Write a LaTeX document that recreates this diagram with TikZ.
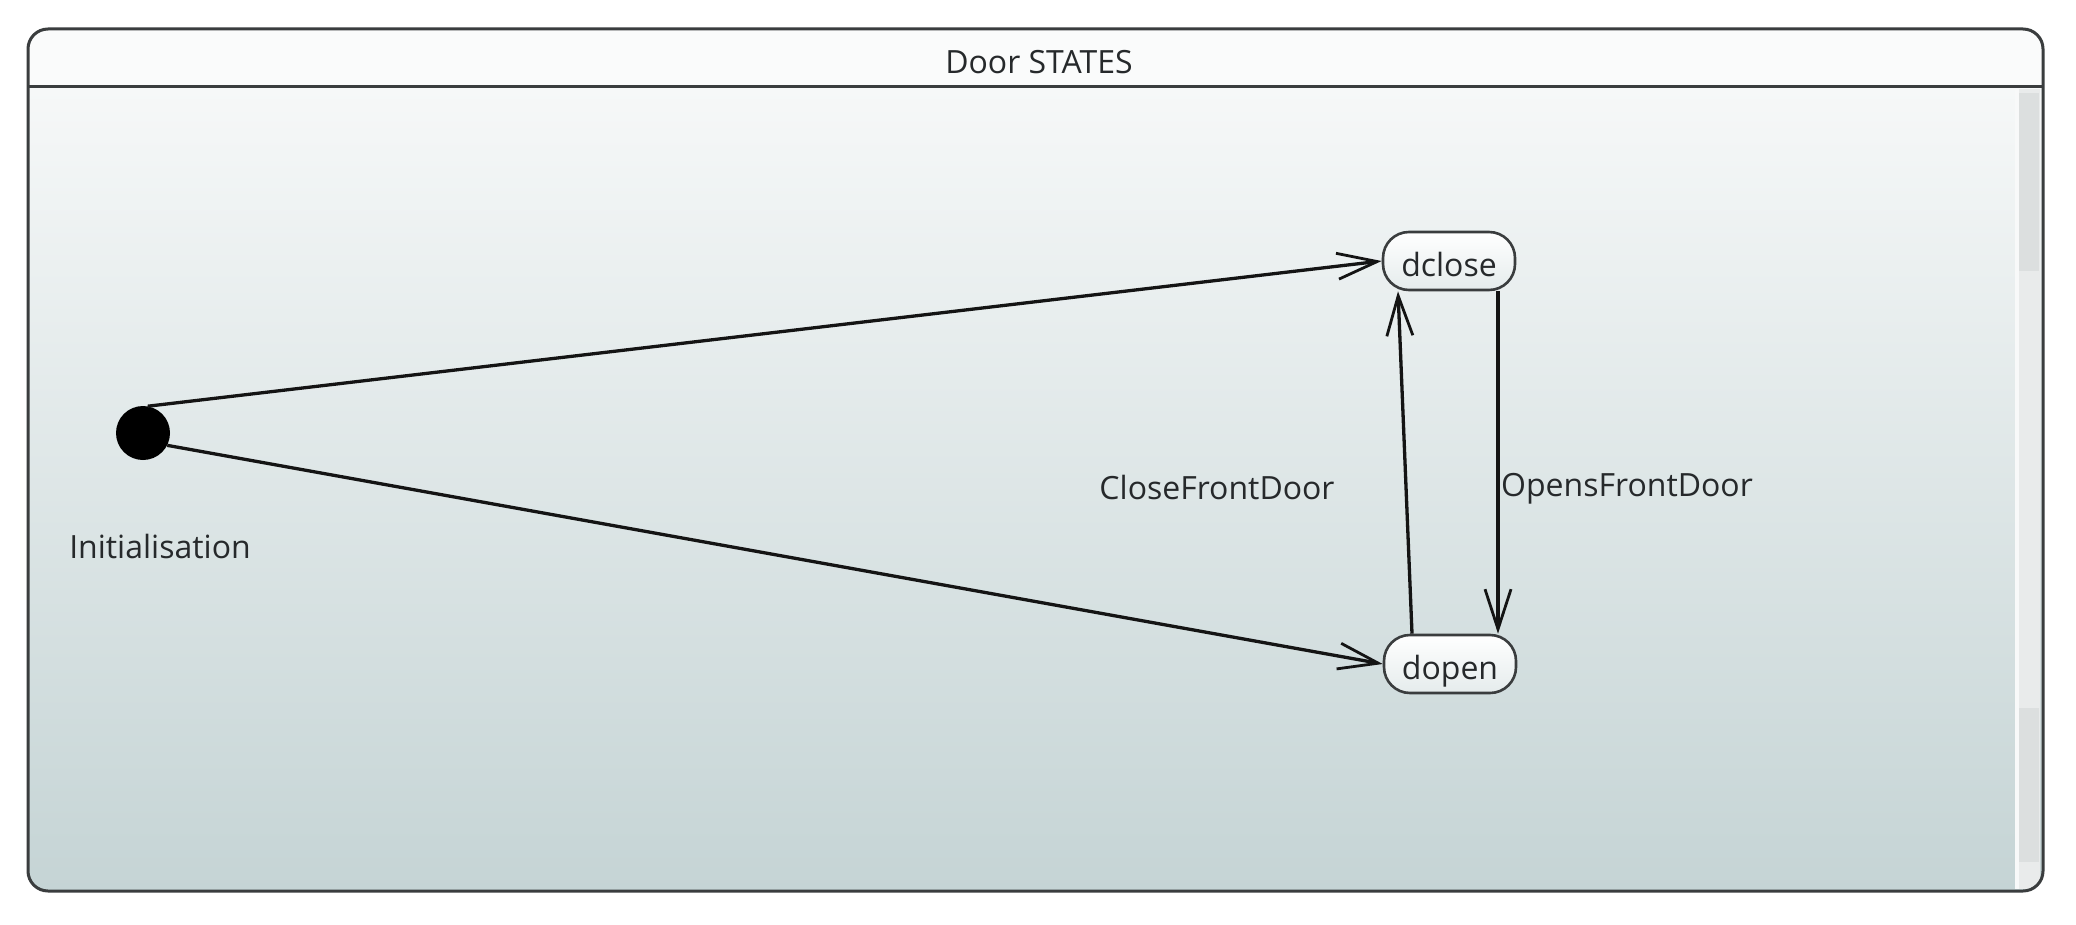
\documentclass[tikz,border=0pt]{standalone}
\usepackage{fontspec}
\setmainfont{Open Sans}
\usetikzlibrary{arrows.meta,calc}
\definecolor{framecol}{HTML}{3A3D3E}
\definecolor{bgtop}{HTML}{F6F8F8}
\definecolor{bgbot}{HTML}{C5D4D5}
\definecolor{titlefill}{HTML}{FAFBFB}
\definecolor{txtcol}{HTML}{26292B}
\definecolor{trackcol}{HTML}{E9EBEB}
\definecolor{thumbcol}{HTML}{DCDFDF}
\begin{document}
\begin{tikzpicture}[x=1pt,y=-1pt,
  lbl/.style={text=txtcol,font=\fontsize{32}{38}\selectfont,inner sep=0pt},
  statebox/.style={draw=framecol,line width=2.6pt,rounded corners=26pt,
    minimum width=132pt,minimum height=58pt,inner sep=0pt,
    text height=31pt,text depth=0pt,
    top color=white,bottom color=nodebot,
    text=txtcol,font=\fontsize{32}{38}\selectfont},
  initdot/.style={circle,fill=black,minimum size=54pt,inner sep=0pt},
  edge/.style={draw=black!92,line width=3.3pt,
    -{Straight Barb[length=40pt,width=26pt,line width=2.8pt]}}
]
\colorlet{nodebot}{bgbot!45!white}
\useasboundingbox (0,0) rectangle (2076,925);
\fill[white] (0,0) rectangle (2076,925);
% frame background
\begin{scope}
  \clip[rounded corners=20pt] (28,29) rectangle (2043,891);
  \shade[top color=bgtop,bottom color=bgbot] (28,87) rectangle (2043,891);
  \fill[titlefill] (28,29) rectangle (2043,87);
  \fill[trackcol] (2015,89) rectangle (2040,889);
  \fill[white!70!trackcol] (2015,89) rectangle (2019,889);
  \fill[thumbcol] (2019,93) rectangle (2039,271);
  \fill[thumbcol] (2019,708) rectangle (2039,862);
\end{scope}
\draw[framecol,line width=3pt,rounded corners=20pt] (28,29) rectangle (2043,891);
\draw[framecol,line width=3pt] (28,87) -- (2043,87);
\node[lbl] (title) at (1039,62) {Door STATES};
% nodes
\node[initdot] (init) at (143,433) {};
\node[lbl] (initlbl) at (160,546) {Initialisation};
\node[statebox] (dclose) at (1449,261) {dclose};
\node[statebox] (dopen) at (1450,664) {dopen};
% edges
\draw[edge] (init.80) -- (dclose.west);
\draw[edge] (init.-27) -- (dopen.west);
\draw[edge] ($(dopen.north)+(-38,0)$) -- ($(dclose.south)+(-51,0)$);
\draw[edge] ($(dclose.south)+(49,0)$) -- ($(dopen.north)+(48,0)$);
\node[lbl] (lblclose) at (1217,487) {CloseFrontDoor};
\node[lbl] (lblopen) at (1627,489) {OpensFrontDoor};
\end{tikzpicture}
\end{document}
